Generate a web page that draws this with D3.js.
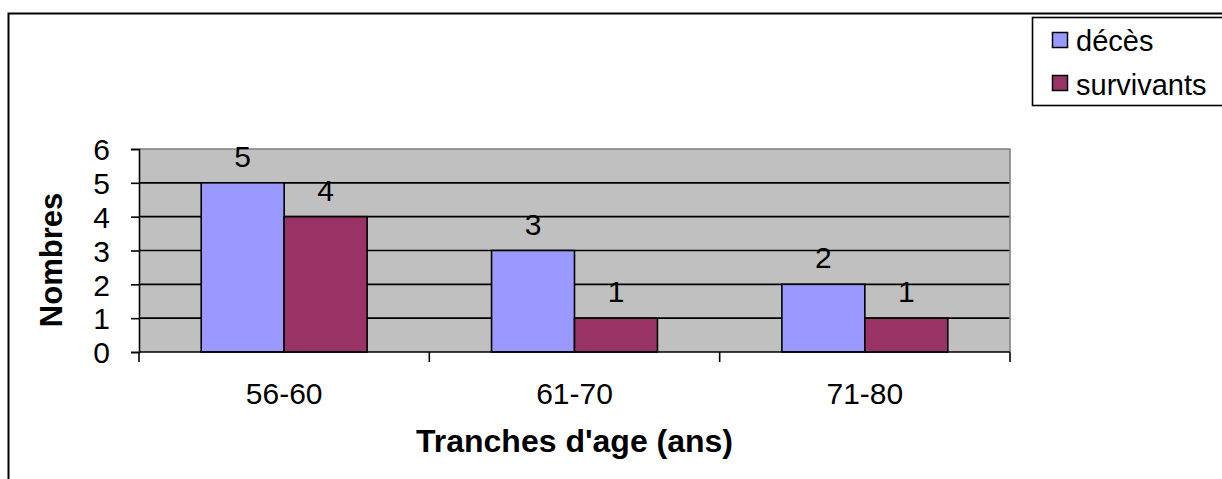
<!DOCTYPE html>
<html>
<head>
<meta charset="utf-8">
<script src="https://cdn.jsdelivr.net/npm/d3@7"></script>
<style>
  html, body { margin: 0; padding: 0; background: #fff; }
  svg { display: block; font-family: "Liberation Sans", Arial, sans-serif; }
</style>
</head>
<body>
<svg id="chart" width="1222" height="479"></svg>
<script>
// Age groups and counts per outcome
const categories = ["56-60", "61-70", "71-80"];
const seriesNames = ["décès", "survivants"];
const deces = [5, 3, 2];
const survivants = [4, 1, 1];
const yTicks = [0, 1, 2, 3, 4, 5, 6];
const colors = ["#9999FF", "#993366"];

const series = [deces, survivants];

const svg = d3.select("#chart");

// Outer chart frame
svg.append("rect")
  .attr("x", 8.5).attr("y", 13.5)
  .attr("width", 1240).attr("height", 500)
  .attr("fill", "#fff").attr("stroke", "#000").attr("stroke-width", 2);

const plot = { left: 139, right: 1010, top: 149, bottom: 352 };

const x0 = d3.scaleBand()
  .domain(categories)
  .range([plot.left, plot.right])
  .padding(0);

const x1 = d3.scaleBand()
  .domain(seriesNames)
  .range([0, x0.bandwidth()])
  .paddingInner(0)
  .paddingOuter(0.75);

const y = d3.scaleLinear()
  .domain([0, 6])
  .range([plot.bottom, plot.top]);

// Plot background
svg.append("rect")
  .attr("x", plot.left).attr("y", plot.top)
  .attr("width", plot.right - plot.left).attr("height", plot.bottom - plot.top)
  .attr("fill", "#C0C0C0");

// Horizontal gridlines
svg.append("g")
  .selectAll("line")
  .data(yTicks.filter(d => d > 0 && d < 6))
  .join("line")
  .attr("x1", plot.left).attr("x2", plot.right)
  .attr("y1", d => y(d)).attr("y2", d => y(d))
  .attr("stroke", "#000").attr("stroke-width", 1.6);

// Plot border (top and right in grey)
svg.append("path")
  .attr("d", `M${plot.left},${plot.top}H${plot.right}V${plot.bottom}`)
  .attr("fill", "none").attr("stroke", "#808080").attr("stroke-width", 1.6);

// Bars
const groups = svg.append("g")
  .selectAll("g")
  .data(categories)
  .join("g")
  .attr("transform", d => `translate(${x0(d)},0)`);

groups.selectAll("rect")
  .data((c, i) => seriesNames.map((s, k) => ({ s, k, v: series[k][i] })))
  .join("rect")
  .attr("x", d => x1(d.s))
  .attr("y", d => y(d.v))
  .attr("width", x1.bandwidth())
  .attr("height", d => y(0) - y(d.v))
  .attr("fill", d => colors[d.k])
  .attr("stroke", "#000").attr("stroke-width", 1.6);

// Value labels
groups.selectAll("text")
  .data((c, i) => seriesNames.map((s, k) => ({ s, k, v: series[k][i] })))
  .join("text")
  .attr("x", d => x1(d.s) + x1.bandwidth() / 2)
  .attr("y", d => y(d.v) - 16)
  .attr("text-anchor", "middle")
  .attr("font-size", 30)
  .attr("fill", "#000")
  .text(d => d.v);

// Y axis
const yAxis = svg.append("g")
  .attr("transform", `translate(${plot.left},0)`)
  .call(d3.axisLeft(y).tickValues(yTicks).tickFormat(d3.format("d")).tickSize(8).tickPadding(21));
yAxis.select(".domain").attr("stroke", "#000").attr("stroke-width", 1.6);
yAxis.selectAll(".tick line").attr("stroke", "#000").attr("stroke-width", 1.6);
yAxis.selectAll(".tick text")
  .attr("font-size", 30).attr("font-family", "Liberation Sans, Arial, sans-serif")
  .attr("fill", "#000").attr("dy", "0.36em");

// X axis with ticks at category boundaries
const xAxisG = svg.append("g");
xAxisG.append("line")
  .attr("x1", plot.left).attr("x2", plot.right)
  .attr("y1", plot.bottom).attr("y2", plot.bottom)
  .attr("stroke", "#000").attr("stroke-width", 1.6);
const boundaries = categories.map(c => x0(c)).concat([x0(categories[categories.length - 1]) + x0.bandwidth()]);
xAxisG.selectAll("line.tk")
  .data(boundaries)
  .join("line")
  .attr("class", "tk")
  .attr("x1", d => d).attr("x2", d => d)
  .attr("y1", plot.bottom).attr("y2", plot.bottom + 10)
  .attr("stroke", "#000").attr("stroke-width", 1.6);
xAxisG.selectAll("text")
  .data(categories)
  .join("text")
  .attr("x", d => x0(d) + x0.bandwidth() / 2)
  .attr("y", 404)
  .attr("text-anchor", "middle")
  .attr("font-size", 30)
  .attr("fill", "#000")
  .text(d => d);

// Axis titles
svg.append("text")
  .attr("x", (plot.left + plot.right) / 2)
  .attr("y", 452)
  .attr("text-anchor", "middle")
  .attr("font-size", 32)
  .attr("font-weight", "bold")
  .text("Tranches d'age (ans)");

svg.append("text")
  .attr("transform", `translate(62,260) rotate(-90)`)
  .attr("text-anchor", "middle")
  .attr("font-size", 31)
  .attr("font-weight", "bold")
  .text("Nombres");

// Legend
const legend = svg.append("g");
legend.append("rect")
  .attr("x", 1032.5).attr("y", 17.5)
  .attr("width", 220).attr("height", 88)
  .attr("fill", "#fff").attr("stroke", "#000").attr("stroke-width", 1.6);

const legendRows = [
  { name: seriesNames[0], color: colors[0], top: 32, base: 51 },
  { name: seriesNames[1], color: colors[1], top: 75, base: 95 }
];
legendRows.forEach(r => {
  legend.append("rect")
    .attr("x", 1052.5).attr("y", r.top + 0.5)
    .attr("width", 15).attr("height", 15)
    .attr("fill", r.color).attr("stroke", "#000").attr("stroke-width", 1.5);
  legend.append("text")
    .attr("x", 1076).attr("y", r.base)
    .attr("font-size", 29)
    .attr("fill", "#000")
    .text(r.name);
});
</script>
</body>
</html>
